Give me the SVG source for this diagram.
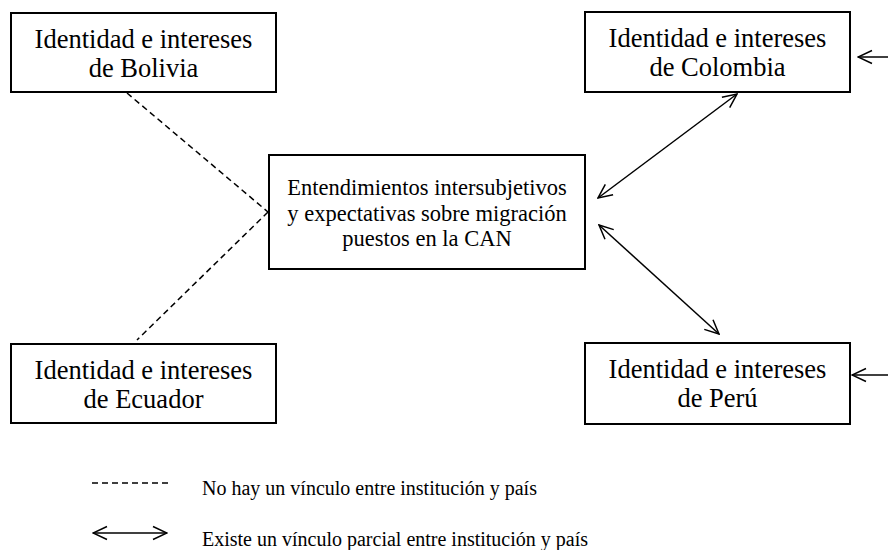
<svg xmlns="http://www.w3.org/2000/svg" width="888" height="550" viewBox="0 0 888 550">
<style>
.box{fill:#fff;stroke:#000;stroke-width:2}
.t{font-family:"Liberation Serif","Times New Roman",serif;fill:#000;text-anchor:middle}
.n{font-size:26.5px}
.c{font-size:22.5px}
.lg{font-size:20px;text-anchor:start}
.dash{stroke:#000;stroke-width:1.5;stroke-dasharray:6 4;fill:none}
.arr{stroke:#000;stroke-width:1.5;fill:none}
</style>
<defs>
<marker id="ah" viewBox="0 0 16 16" refX="15" refY="8" markerWidth="16" markerHeight="16" markerUnits="userSpaceOnUse" orient="auto-start-reverse">
<path d="M1,1.5 L15,8 L1,14.5" fill="none" stroke="#000" stroke-width="1.5"/>
</marker>
</defs>
<rect width="888" height="550" fill="#fff"/>
<g id="connectors">
<line class="dash" x1="127" y1="93" x2="268" y2="212"/>
<line class="dash" x1="268" y1="212" x2="137" y2="340"/>
<line class="arr" x1="598" y1="198" x2="737" y2="94" marker-start="url(#ah)" marker-end="url(#ah)"/>
<line class="arr" x1="599" y1="225" x2="719" y2="334" marker-start="url(#ah)" marker-end="url(#ah)"/>
<line class="arr" x1="888" y1="57" x2="858" y2="57" marker-end="url(#ah)"/>
<line class="arr" x1="888" y1="375" x2="852" y2="375" marker-end="url(#ah)"/>
</g>
<g id="bolivia">
<rect class="box" x="11" y="13" width="265" height="79"/>
<text class="t n" x="143.5" y="48">Identidad e intereses</text>
<text class="t n" x="143.5" y="77">de Bolivia</text>
</g>
<g id="colombia">
<rect class="box" x="585" y="12" width="265" height="80"/>
<text class="t n" x="717.5" y="47">Identidad e intereses</text>
<text class="t n" x="717.5" y="76">de Colombia</text>
</g>
<g id="can">
<rect class="box" x="269" y="155" width="316" height="114"/>
<text class="t c" x="427" y="195">Entendimientos intersubjetivos</text>
<text class="t c" x="427" y="221">y expectativas sobre migración</text>
<text class="t c" x="427" y="246">puestos en la CAN</text>
</g>
<g id="ecuador">
<rect class="box" x="11" y="344" width="265" height="79"/>
<text class="t n" x="143.5" y="379">Identidad e intereses</text>
<text class="t n" x="143.5" y="408">de Ecuador</text>
</g>
<g id="peru">
<rect class="box" x="585" y="343" width="265" height="81"/>
<text class="t n" x="717.5" y="378">Identidad e intereses</text>
<text class="t n" x="717.5" y="407">de Perú</text>
</g>
<g id="legend">
<line class="dash" x1="92" y1="483" x2="168" y2="483" stroke-dasharray="6 5"/>
<text class="t lg" x="202" y="495">No hay un vínculo entre institución y país</text>
<line class="arr" x1="93" y1="533" x2="167" y2="533" marker-start="url(#ah)" marker-end="url(#ah)"/>
<text class="t lg" x="202" y="546">Existe un vínculo parcial entre institución y país</text>
</g>
</svg>
